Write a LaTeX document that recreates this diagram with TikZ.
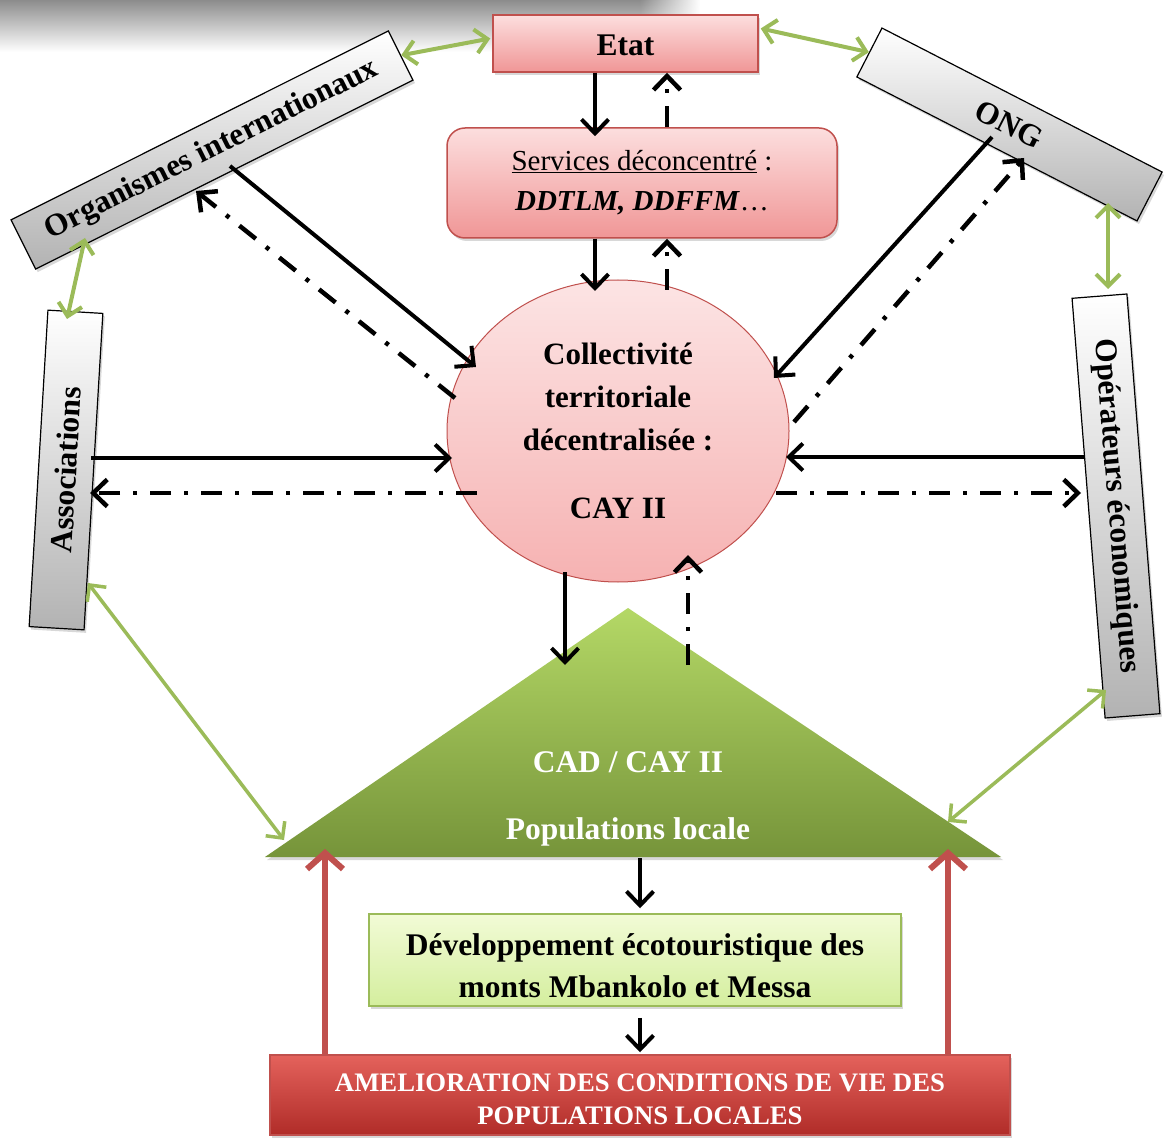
\documentclass[tikz,border=0pt]{standalone}
\usepackage{fontspec}
\setmainfont{Liberation Serif}
\usetikzlibrary{arrows.meta,shapes.geometric,shadows,fadings}
\definecolor{redb}{RGB}{192,80,77}
\definecolor{greenl}{RGB}{155,187,89}
\definecolor{pinktop}{RGB}{252,222,222}
\definecolor{pinkbot}{RGB}{240,150,150}
\definecolor{circtop}{RGB}{252,228,228}
\definecolor{circbot}{RGB}{246,178,178}
\definecolor{tritop}{RGB}{180,216,102}
\definecolor{tribot}{RGB}{118,148,58}
\definecolor{devtop}{RGB}{242,251,214}
\definecolor{devbot}{RGB}{212,238,158}
\definecolor{ameltop}{RGB}{228,98,92}
\definecolor{amelbot}{RGB}{176,44,40}
\begin{document}
\begin{tikzpicture}[x=1pt,y=-1pt,
  lbl/.style={font=\fontsize{31.5}{36}\selectfont\bfseries},
  shad/.style={drop shadow={opacity=0.3,shadow xshift=2pt,shadow yshift=-3pt}},
  graybox/.style={draw=black, line width=1.2pt, top color=white, bottom color=black!30,
    minimum height=55, inner sep=0, lbl, shad},
  pinkbox/.style={draw=redb, line width=1.5pt, top color=pinktop, bottom color=pinkbot, inner sep=0, shad},
  solidarr/.style={line width=4pt, -{Straight Barb[length=14pt,width=27pt]}},
  dasharr/.style={line width=4.5pt, dash pattern=on 21pt off 13pt on 4pt off 13pt,
    -{Straight Barb[length=14pt,width=27pt]}},
  garr/.style={draw=greenl, line width=4pt,
    {Straight Barb[length=12pt,width=24pt]}-{Straight Barb[length=12pt,width=24pt]}},
  rarr/.style={draw=redb, line width=6pt, -{Straight Barb[length=16pt,width=36pt]}}
]
\useasboundingbox (0,0) rectangle (1168,1147);
\fill[white] (0,0) rectangle (1168,1147);
% top-left grey shadow band
\shade[top color=black!45, bottom color=white] (0,0) rectangle (640,52);
\shade[top color=black!45, bottom color=white, path fading=east] (640,0) rectangle (700,52);

% main nodes
\node[pinkbox, minimum width=265, minimum height=57, lbl] (etat) at (625.5,43.5) {\rule{0pt}{25pt}Etat};
\node[pinkbox, rounded corners=18pt, minimum width=390, minimum height=110,
      align=center, font=\fontsize{29}{40}\selectfont] (serv) at (642,183)
      {\underline{Services déconcentré} :\\\textbf{\textit{DDTLM, DDFFM}}…};
\node[ellipse, draw=redb, line width=1pt, top color=circtop, bottom color=circbot,
      minimum width=342, minimum height=302, inner sep=0, align=center,
      font=\fontsize{31}{43}\selectfont\bfseries] (circ) at (618,431)
      {Collectivité\\territoriale\\décentralisée :\\[25pt]CAY II};

\node[graybox, minimum width=422, rotate=26.6] (org) at (212,150) {Organismes internationaux};
\node[graybox, minimum width=315, rotate=-27.2] (ong) at (1009.5,124.5) {ONG};
\node[graybox, minimum width=317, rotate=86.6] (assoc) at (66,470) {Associations};
\node[graybox, minimum width=421, rotate=-85.5] (oper) at (1116,506) {Opérateurs économiques};

% triangle
\coordinate (tA) at (628,608);
\coordinate (tL) at (265,857);
\coordinate (tR) at (1001,857);
\coordinate (tB) at (628,857);
\shade[top color=tritop, bottom color=tribot, shad] (tA) -- (tR) -- (tL) -- cycle;
\node[lbl, text=white] (cad) at (628,762) {CAD / CAY II};
\node[lbl, text=white] (pop) at (628,832) {Populations locale};

\node[draw=greenl, line width=1.5pt, top color=devtop, bottom color=devbot, shad,
      minimum width=532, minimum height=92, inner sep=0, align=center,
      font=\fontsize{31.5}{42}\selectfont\bfseries] (dev) at (635,960)
      {\rule{0pt}{34pt}Développement écotouristique des\\monts Mbankolo et Messa};
\node[draw=redb, line width=1.5pt, top color=ameltop, bottom color=amelbot, shad,
      minimum width=740, minimum height=80, inner sep=0, align=center, text=white,
      font=\fontsize{26.7}{33}\selectfont\bfseries] (amel) at (640,1095)
      {\rule{0pt}{27pt}AMELIORATION DES CONDITIONS DE VIE DES\\POPULATIONS LOCALES};

% green double arrows
\draw[garr] (org.east) -- ([shift={(-2,-5)}]etat.west);
\draw[garr] ([shift={(2,-15)}]etat.east) -- (ong.west);
\draw[garr] ([shift={(98.5,78.5)}]ong.center) -- ([shift={(-8,-217)}]oper.center);
\draw[garr] ([shift={(-127,88)}]org.center) -- ([shift={(1,-151)}]assoc.center);
\draw[garr, line width=3.5pt] ([shift={(22,113)}]assoc.center) -- ([shift={(19,-17)}]tL);
\draw[garr, line width=3.5pt] ([shift={(-10,184)}]oper.center) -- ([shift={(-53,-35)}]tR);

% black arrows
\draw[solidarr] ([shift={(-30.5,0)}]etat.south) -- ([shift={(-47,9)}]serv.north);
\draw[dasharr] ([shift={(25,0)}]serv.north) -- ([shift={(41.5,0)}]etat.south);
\draw[solidarr] ([shift={(-47,0)}]serv.south) -- ([shift={(-23,-140)}]circ.center);
\draw[dasharr] ([shift={(49,-141)}]circ.center) -- ([shift={(25,0)}]serv.south);
\draw[solidarr] ([shift={(18,16)}]org.center) -- ([shift={(-142,-64)}]circ.center);
\draw[dasharr] ([shift={(-163,-33)}]circ.center) -- ([shift={(-16,41)}]org.center);
\draw[solidarr] ([shift={(-17.5,12.5)}]ong.center) -- ([shift={(156,-53)}]circ.center);
\draw[dasharr] ([shift={(176,-9)}]circ.center) -- ([shift={(14.5,33.5)}]ong.center);
\draw[solidarr] ([shift={(25,-12)}]assoc.center) -- ([shift={(-166,27)}]circ.center);
\draw[dasharr] ([shift={(-141,62)}]circ.center) -- ([shift={(24,23)}]assoc.center);
\draw[solidarr] ([shift={(-31,-49)}]oper.center) -- ([shift={(168,26)}]circ.center);
\draw[dasharr] ([shift={(158,62)}]circ.center) -- ([shift={(-35,-13)}]oper.center);
\draw[solidarr] ([shift={(-53,141)}]circ.center) -- ([shift={(-63,57)}]tA);
\draw[dasharr] ([shift={(60,57)}]tA) -- ([shift={(70,124)}]circ.center);
\draw[solidarr] ([shift={(12,1)}]tB) -- ([shift={(5,-5)}]dev.north);
\draw[solidarr] ([shift={(5,11)}]dev.south) -- ([shift={(0,-2)}]amel.north);

% red arrows
\draw[rarr] ([shift={(-315,0)}]amel.north) -- ([shift={(60,-8)}]tL);
\draw[rarr] ([shift={(308,0)}]amel.north) -- ([shift={(-53,-8)}]tR);
\end{tikzpicture}
\end{document}
